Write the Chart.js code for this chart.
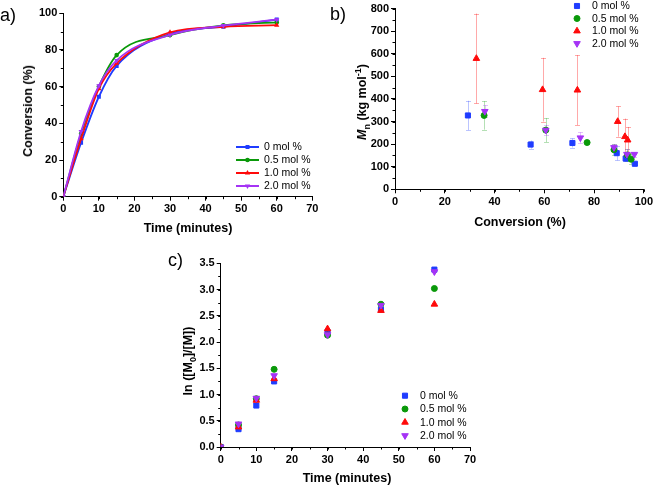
<!DOCTYPE html>
<html><head><meta charset="utf-8">
<script src="https://cdn.jsdelivr.net/npm/chart.js@4"></script>
<style>
body{margin:0;background:#fff;width:655px;height:487px;position:relative;overflow:hidden;font-family:"Liberation Sans",Arial,Helvetica,sans-serif;color:#000;}
.c{position:absolute;}
.t{position:absolute;font-weight:bold;font-size:12.5px;line-height:14px;white-space:nowrap;transform:translate(-50%,-50%);}
.r{transform:translate(-50%,-50%) rotate(-90deg);}
.lbl{position:absolute;font-size:18px;line-height:18px;}
sub,sup{font-size:9px;line-height:0;}
</style></head><body>
<div class="c" style="left:0;top:0;width:330px;height:240px"><canvas id="ca" width="330" height="240"></canvas></div>
<div class="c" style="left:330px;top:0;width:325px;height:240px"><canvas id="cb" width="325" height="240"></canvas></div>
<div class="c" style="left:150px;top:240px;width:330px;height:247px"><canvas id="cc" width="330" height="247"></canvas></div>

<div class="lbl" style="left:0px;top:6px">a)</div>
<div class="lbl" style="left:330px;top:5px">b)</div>
<div class="lbl" style="left:168px;top:251px">c)</div>

<div class="t" style="left:188px;top:228px">Time (minutes)</div>
<div class="t r" style="left:28px;top:111px">Conversion (%)</div>
<div class="t" style="left:520px;top:222px">Conversion (%)</div>
<div class="t r" style="left:362px;top:102px"><i>M</i><sub>n</sub> (kg mol<sup>-1</sup>)</div>
<div class="t" style="left:347px;top:478px">Time (minutes)</div>
<div class="t r" style="left:188px;top:361px">ln ([M<sub>0</sub>]/[M])</div>

<script>
// ---------- data ----------
const seriesLabels = ['0 mol %', '0.5 mol %', '1.0 mol %', '2.0 mol %'];

// panel a: conversion (%) vs time (minutes)
const timeA = [0, 5, 10, 15, 30, 45, 60];
const convA_0  = [0, 29.4, 54.5, 71.3, 88.8, 92.7, 96.6];
const convA_05 = [0, 34.3, 60.1, 77.2, 88.1, 93.4, 95.0];
const convA_10 = [0, 31.6, 58.9, 72.7, 89.6, 92.6, 93.5];
const convA_20 = [0, 35.6, 60.5, 74.3, 88.2, 93.3, 96.5];

// panel b: Mn (kg/mol) vs conversion (%), with error
const convB_0  = [29.3, 54.5, 71.3, 89.1, 92.7, 96.4];
const mnB_0    = [327, 198, 205, 160, 136, 113];
const errB_0   = [65, 18, 20, 32, 10, 6];
const convB_05 = [35.8, 60.6, 77.2, 88.0, 93.4, 94.9];
const mnB_05   = [327, 262, 207, 175, 152, 133];
const errB_05  = [63, 53, 5, 25, 25, 22];
const convB_10 = [32.7, 59.3, 73.3, 89.5, 92.4, 93.5];
const mnB_10   = [579, 441, 439, 300, 233, 218];
const errB_10  = [199, 141, 155, 67, 80, 58];
const convB_20 = [36.1, 60.6, 74.5, 88.0, 93.2, 96.2];
const mnB_20   = [345, 262, 228, 185, 155, 155];
const errB_20  = [27, 22, 24, 15, 22, 10];

// panel c: ln([M0]/[M]) vs time
const timeC = [0, 5, 10, 15, 30, 45, 60];
const lnC_0  = [0, 0.34, 0.79, 1.25, 2.19, 2.62, 3.38];
const lnC_05 = [0, 0.42, 0.92, 1.48, 2.13, 2.72, 3.02];
const lnC_10 = [0, 0.38, 0.89, 1.30, 2.25, 2.60, 2.72];
const lnC_20 = [0, 0.44, 0.93, 1.36, 2.14, 2.70, 3.34];

// tick values / labels
const aXTicks = [0, 10, 20, 30, 40, 50, 60, 70];
const aXLabels = ['0', '10', '20', '30', '40', '50', '60', '70'];
const aYTicks = [0, 20, 40, 60, 80, 100];
const aYLabels = ['0', '20', '40', '60', '80', '100'];
const bXTicks = [0, 20, 40, 60, 80, 100];
const bXLabels = ['0', '20', '40', '60', '80', '100'];
const bYTicks = [0, 100, 200, 300, 400, 500, 600, 700, 800];
const bYLabels = ['0', '100', '200', '300', '400', '500', '600', '700', '800'];
const cXTicks = [0, 10, 20, 30, 40, 50, 60, 70];
const cXLabels = ['0', '10', '20', '30', '40', '50', '60', '70'];
const cYTicks = [0, 0.5, 1.0, 1.5, 2.0, 2.5, 3.0, 3.5];
const cYLabels = ['0.0', '0.5', '1.0', '1.5', '2.0', '2.5', '3.0', '3.5'];

// ---------- styles ----------
const FONT = '"Liberation Sans", Arial, Helvetica, sans-serif';
const COLORS = ['#1f3cff', '#0a990a', '#ff0a0a', '#a533f5'];
const ERRCOLORS = ['rgba(31,60,255,0.3)', 'rgba(10,153,10,0.3)', 'rgba(255,10,10,0.35)', 'rgba(165,51,245,0.3)'];
const PSTYLE = ['rect', 'circle', 'triangle', 'triangle'];
const PROT = [0, 0, 0, 180];
const PRAD = [3.6, 3, 3.8, 3.8];
const PRAD_SMALL = [2.8, 2.3, 3.0, 3.0];

const zip = (xs, ys) => xs.map((x, i) => ({x: x, y: ys[i]}));

function mkAxis(pos, min, max, vals, labels, fit) {
  return {
    type: 'linear', position: pos, min: min, max: max,
    afterBuildTicks: s => { s.ticks = vals.map(v => ({value: v})); },
    afterFit: s => { if (pos === 'left') s.width = fit; else s.height = fit; },
    ticks: {color: '#000', font: {family: FONT, size: 11, weight: 'bold'}, padding: 2,
            maxRotation: 0, autoSkip: false, callback: (v, i) => labels[i]},
    grid: {display: true, drawOnChartArea: false, drawTicks: true, tickLength: 4, color: '#000', lineWidth: 1},
    border: {display: true, color: '#000', width: 1}
  };
}

const minorTicks = {
  id: 'minorTicks',
  afterDraw(chart, args, opts) {
    const ctx = chart.ctx; ctx.save(); ctx.strokeStyle = '#000'; ctx.lineWidth = 1;
    ['x', 'y'].forEach(k => {
      const s = chart.scales[k]; const step = opts[k]; if (!step) return;
      const n = Math.round((s.max - s.min) / step);
      for (let j = 0; j <= n; j++) {
        const p = Math.round(s.getPixelForValue(s.min + j * step)) + 0.5;
        ctx.beginPath();
        if (k === 'x') { ctx.moveTo(p, s.top); ctx.lineTo(p, s.top + 2.5); }
        else { ctx.moveTo(s.right, p); ctx.lineTo(s.right - 2.5, p); }
        ctx.stroke();
      }
    });
    ctx.restore();
  }
};

const errBars = {
  id: 'errBars',
  beforeDatasetsDraw(chart) {
    const ctx = chart.ctx; const xs = chart.scales.x, ys = chart.scales.y;
    ctx.save(); ctx.lineWidth = 1;
    chart.data.datasets.forEach(ds => {
      if (!ds.err) return;
      ctx.strokeStyle = ds.errColor;
      ds.data.forEach((p, i) => {
        const e = ds.err[i];
        const px = Math.round(xs.getPixelForValue(p.x)) + 0.5;
        const y1 = ys.getPixelForValue(p.y + e), y2 = ys.getPixelForValue(p.y - e);
        ctx.beginPath();
        ctx.moveTo(px, y1); ctx.lineTo(px, y2);
        ctx.moveTo(px - 2.5, Math.round(y1) + 0.5); ctx.lineTo(px + 2.5, Math.round(y1) + 0.5);
        ctx.moveTo(px - 2.5, Math.round(y2) + 0.5); ctx.lineTo(px + 2.5, Math.round(y2) + 0.5);
        ctx.stroke();
      });
    });
    ctx.restore();
  }
};

const customLegend = {
  id: 'customLegend',
  afterDraw(chart, args, o) {
    const ctx = chart.ctx; ctx.save();
    ctx.font = '10.5px ' + FONT; ctx.textBaseline = 'middle'; ctx.textAlign = 'left';
    chart.data.datasets.forEach((ds, i) => {
      const yy = o.y + i * o.dy;
      if (o.line) {
        ctx.strokeStyle = ds.borderColor; ctx.lineWidth = 2;
        ctx.beginPath(); ctx.moveTo(o.lx0, yy); ctx.lineTo(o.lx1, yy); ctx.stroke();
      }
      ctx.fillStyle = ds.pointBackgroundColor; ctx.strokeStyle = ds.pointBorderColor;
      Chart.helpers.drawPoint(ctx, {pointStyle: ds.pointStyle, rotation: ds.rotation, radius: ds.pointRadius, borderWidth: ds.pointBorderWidth}, o.mx, yy);
      ctx.fillStyle = '#000';
      ctx.fillText(ds.label, o.tx, yy + 0.5);
    });
    ctx.restore();
  }
};

function mkDatasets(xsList, ysList, lines, errs, radii) {
  return ysList.map((ys, i) => ({
    label: seriesLabels[i],
    data: zip(xsList[i], ys),
    showLine: lines,
    cubicInterpolationMode: 'monotone',
    borderColor: COLORS[i], backgroundColor: COLORS[i], borderWidth: 1.8,
    pointBackgroundColor: COLORS[i], pointBorderColor: COLORS[i], pointBorderWidth: lines ? 0 : 1,
    pointStyle: PSTYLE[i], rotation: PROT[i], pointRadius: radii[i],
    order: 4 - i,
    err: errs ? errs[i] : null, errColor: ERRCOLORS[i]
  }));
}

function mkChart(id, datasets, axes, pad, legendOpts, minor) {
  return new Chart(document.getElementById(id), {
    type: 'scatter',
    data: {datasets: datasets},
    options: {
      responsive: false, animation: false, devicePixelRatio: 1,
      layout: {padding: pad},
      scales: {x: axes[0], y: axes[1]},
      plugins: {legend: {display: false}, tooltip: {enabled: false},
                customLegend: legendOpts, minorTicks: minor}
    },
    plugins: [minorTicks, errBars, customLegend]
  });
}

// panel a
mkChart('ca',
  mkDatasets([timeA, timeA, timeA, timeA], [convA_0, convA_05, convA_10, convA_20], true, null, PRAD_SMALL),
  [mkAxis('bottom', 0, 70, aXTicks, aXLabels, 43.3), mkAxis('left', 0, 100, aYTicks, aYLabels, 63.3)],
  {left: 0, right: 17.7, top: 13.3, bottom: 0},
  {line: true, lx0: 236, lx1: 259, mx: 247.5, tx: 264, y: 147, dy: 13},
  {x: 5, y: 10});

// panel b
mkChart('cb',
  mkDatasets([convB_0, convB_05, convB_10, convB_20], [mnB_0, mnB_05, mnB_10, mnB_20], false,
             [errB_0, errB_05, errB_10, errB_20], PRAD),
  [mkAxis('bottom', 0, 100, bXTicks, bXLabels, 50.7), mkAxis('left', 0, 800, bYTicks, bYLabels, 65)],
  {left: 0, right: 10, top: 6.6, bottom: 0},
  {line: false, mx: 247, tx: 262, y: 6, dy: 12.5},
  {x: 10, y: 50});

// panel c
mkChart('cc',
  mkDatasets([timeC, timeC, timeC, timeC], [lnC_0, lnC_05, lnC_10, lnC_20], false, null, PRAD),
  [mkAxis('bottom', 0, 70, cXTicks, cXLabels, 40), mkAxis('left', 0, 3.5, cYTicks, cYLabels, 70.7)],
  {left: 0, right: 10, top: 23.3, bottom: 0},
  {line: false, mx: 255, tx: 270, y: 155.7, dy: 13.3},
  {x: 5, y: 0.25});
</script>
</body></html>
